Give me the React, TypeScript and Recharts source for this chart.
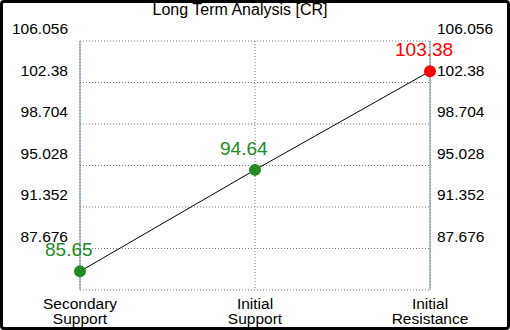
import React from 'react'
import { LineChart, Line, XAxis, YAxis, CartesianGrid, LabelList } from 'recharts'

const categories = ['Secondary Support', 'Initial Support', 'Initial Resistance']
const levels = [85.65, 94.64, 103.38]
const yTicks = [84.0, 87.676, 91.352, 95.028, 98.704, 102.38, 106.056]

const data = categories.map((name, i) => ({ name, value: levels[i] }))

const FONT = '"Liberation Sans", Arial, sans-serif'
const GREEN = '#228B22'
const RED = '#FF0000'
const AXIS = '#7088ad'
const GRID = '#6b7b99'

const colorFor = (i: number) => (i === levels.length - 1 ? RED : GREEN)

// y labels sit just above their grid line, bottom one left blank
const YTick = (anchor: 'start' | 'end') => (props: any) => {
  const { x, y, payload } = props
  if (payload.value === yTicks[0]) return null
  return (
    <text x={x} y={y - 7} textAnchor={anchor} fontSize={15.5} fontFamily={FONT} fill="#000">
      {String(payload.value)}
    </text>
  )
}

const XTick = (props: any) => {
  const { x, y, payload } = props
  const parts = String(payload.value).split(' ')
  return (
    <text x={x} y={y} textAnchor="middle" fontSize={15.5} fontFamily={FONT} fill="#000">
      <tspan x={x} dy={19}>{parts[0]}</tspan>
      <tspan x={x} dy={15}>{parts[1]}</tspan>
    </text>
  )
}

const Dot = (props: any) => {
  const { cx, cy, index } = props
  return <circle key={index} cx={cx} cy={cy} r={6} fill={colorFor(index)} />
}

const ValueLabel = (props: any) => {
  const { x, y, value, index } = props
  return (
    <text x={x - 35} y={y - 15} textAnchor="start" fontSize={19} fontFamily={FONT} fill={colorFor(index)}>
      {value.toFixed(2)}
    </text>
  )
}

export default function App() {
  const domain: [number, number] = [yTicks[0], yTicks[yTicks.length - 1]]
  return (
    <div style={{ position: 'relative', width: 510, height: 330, background: '#fff', fontFamily: FONT }}>
      <style>{'body{margin:0}'}</style>
      <LineChart width={510} height={330} data={data} margin={{ top: 41, right: 0, bottom: 0, left: 0 }}>
        <CartesianGrid stroke={GRID} strokeDasharray="1 2" yAxisId="left" />
        <XAxis
          dataKey="name"
          axisLine={false}
          tickLine={false}
          tickSize={0}
          tickMargin={0}
          height={40}
          interval={0}
          tick={XTick}
        />
        <YAxis
          yAxisId="left"
          orientation="left"
          width={80}
          domain={domain}
          ticks={yTicks}
          interval={0}
          axisLine={{ stroke: AXIS, strokeWidth: 1 }}
          tickLine={false}
          tickSize={0}
          tickMargin={12}
          tick={YTick('end')}
        />
        <YAxis
          yAxisId="right"
          orientation="right"
          width={80}
          domain={domain}
          ticks={yTicks}
          interval={0}
          axisLine={{ stroke: AXIS, strokeWidth: 1 }}
          tickLine={false}
          tickSize={0}
          tickMargin={7}
          tick={YTick('start')}
        />
        {/* invisible twin so the right axis has a series bound to it */}
        <Line
          yAxisId="right"
          dataKey="value"
          stroke="none"
          dot={false}
          activeDot={false}
          legendType="none"
          isAnimationActive={false}
        />
        <Line
          yAxisId="left"
          dataKey="value"
          stroke="#000"
          strokeWidth={1}
          dot={Dot}
          activeDot={false}
          isAnimationActive={false}
        >
          <LabelList dataKey="value" content={ValueLabel} />
        </Line>
      </LineChart>
      <div
        style={{
          position: 'absolute', left: 0, top: 0, width: 480, textAlign: 'center',
          fontSize: 16, lineHeight: '18px', paddingTop: 1, color: '#000',
        }}
      >
        Long Term Analysis [CR]
      </div>
      <div
        style={{
          position: 'absolute', left: 0, top: 0, width: 510, height: 330,
          border: '3px solid #000', borderRadius: 4, boxSizing: 'border-box', pointerEvents: 'none',
        }}
      />
    </div>
  )
}
